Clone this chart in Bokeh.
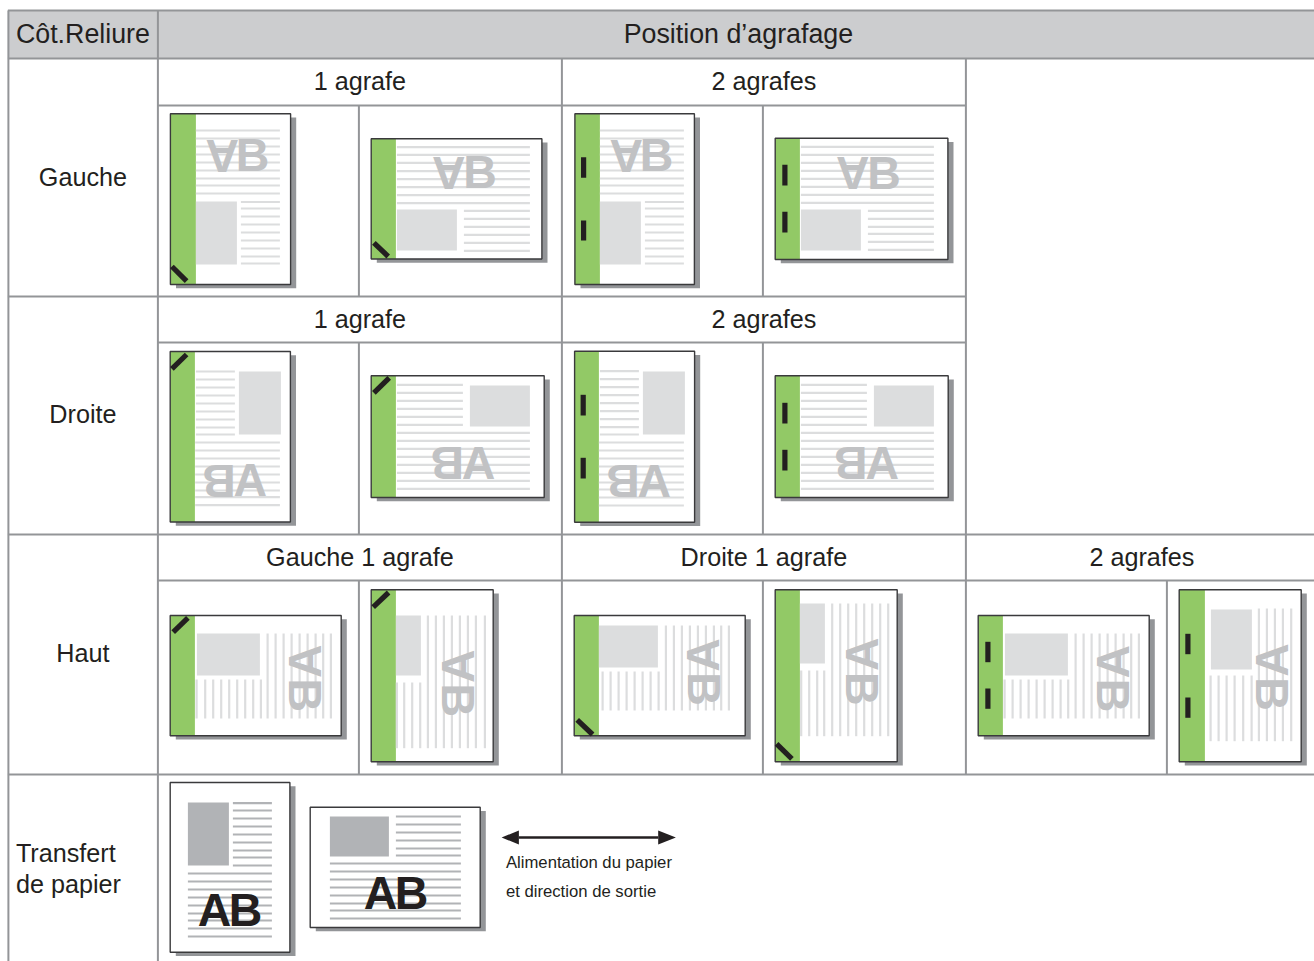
from bokeh.plotting import figure
from bokeh.models import Range1d
from bokeh.core.properties import value
from bokeh.embed import file_html
from bokeh.resources import INLINE
import math

# ---- texts -------------------------------------------------------------
HEADER_TEXTS = [("Côt.Reliure", 16, 43, "left"), ("Position d’agrafage", 738.5, 43, "center")]
CELL_TEXTS = [
    ("1 agrafe", 360, 90, "center"), ("2 agrafes", 764, 90, "center"),
    ("Gauche", 83, 186, "center"),
    ("1 agrafe", 360, 328, "center"), ("2 agrafes", 764, 328, "center"),
    ("Droite", 83, 423, "center"),
    ("Gauche 1 agrafe", 360, 566, "center"), ("Droite 1 agrafe", 764, 566, "center"),
    ("2 agrafes", 1142, 566, "center"),
    ("Haut", 83, 662, "center"),
    ("Transfert", 16, 862, "left"), ("de papier", 16, 893, "left"),
]
NOTE_TEXTS = [("Alimentation du papier", 506, 868.5), ("et direction de sortie", 506, 897)]

# ---- table rules ---------------------------------------------------------
H_RULES = [(8, 1315, 10), (8, 1315, 58), (158, 966, 105), (8, 966, 296), (158, 966, 342),
           (8, 1315, 534), (158, 1315, 580), (8, 1315, 774)]
V_RULES = [(8.5, 10, 961), (158, 10, 961), (562, 58, 774), (966, 58, 774),
           (359, 105, 296), (763, 105, 296), (359, 342, 534), (763, 342, 534),
           (359, 580, 774), (763, 580, 774), (1167, 580, 774)]

# ---- sheets ----------------------------------------------------------------
SHEETS = [
    # Gauche
    dict(box=(170.5, 113.3, 290.7, 284), green=196, rect=(196, 201, 237, 264),
         h=[(196, 280, [130, 138, 146, 154, 162, 170, 178, 185, 193]),
            (241, 280, [201.5, 208, 216, 224, 232, 240, 248, 256, 263])],
         ab=("fv", 207, 138.3, 268, 171.7), stap=[(172, 266, 186.7, 280.7)]),
    dict(box=(371.3, 138.3, 542, 258.5), green=396, rect=(397, 209, 457, 250),
         h=[(397, 530, [146.7, 154.3, 162.3, 170.7, 178.7, 186.7, 194.7, 202.7]),
            (464, 530, [210.3, 218.3, 226.3, 234.3, 242.3, 250.3])],
         ab=("fv", 433, 156, 496, 188.7), stap=[(374, 242.3, 388.3, 256)]),
    dict(box=(575, 113.3, 694.5, 284), green=600, rect=(600, 201, 641, 264),
         h=[(600, 684, [130, 138, 146, 154, 162, 170, 178, 185, 193]),
            (645, 684, [201.5, 208, 216, 224, 232, 240, 248, 256, 263])],
         ab=("fv", 611, 138.3, 672, 171.7),
         stap=[(583.7, 156.7, 583.7, 177.3), (583.7, 220, 583.7, 240)]),
    dict(box=(775.3, 137.7, 948, 259), green=800, rect=(801, 209, 861, 250),
         h=[(801, 934, [146.3, 154.3, 162.3, 170.3, 178.3, 186.3, 194.3, 202.3]),
            (868, 934, [210.3, 218.3, 226.3, 233.3, 241.3, 249.3])],
         ab=("fv", 837, 155.7, 900, 189),
         stap=[(785, 164.3, 785, 185), (785, 211.3, 785, 232)]),
    # Droite
    dict(box=(170.3, 351, 290.5, 521.5), green=195, rect=(239, 371, 281, 434),
         h=[(196, 235, [371, 379, 387, 395, 403, 411, 419, 427, 434]),
            (195.3, 280, [442, 450, 458, 466, 474, 482, 490, 496.7, 504.7])],
         ab=("fh", 203.3, 464, 266, 496.7), stap=[(172, 368.3, 186.7, 354)]),
    dict(box=(371.3, 375.3, 544.3, 497), green=396, rect=(470, 385, 530, 426),
         h=[(397, 463, [384.3, 392.3, 400.3, 408.3, 416.3, 424.3]),
            (397, 530, [432.3, 440.3, 448.3, 456.3, 464.3, 472.3, 480.3, 488.3])],
         ab=("fh", 431.7, 446, 494.3, 479), stap=[(374, 392.3, 389.3, 377.3)]),
    dict(box=(574.7, 350.7, 694.7, 521.7), green=599, rect=(643, 371, 685, 434),
         h=[(600, 639, [370.7, 378.7, 386.7, 394.7, 402.7, 410.7, 418.7, 426.7, 434]),
            (599, 684, [442, 450, 458, 466, 474, 482, 489, 497, 505])],
         ab=("fh", 607.3, 464, 670, 497),
         stap=[(583.3, 394.3, 583.3, 415), (583.3, 457.3, 583.3, 478)]),
    dict(box=(775.3, 375.3, 948.3, 497), green=800, rect=(874, 385, 934, 426),
         h=[(801, 867, [384.3, 392.3, 400.3, 408.3, 416.3, 424.3]),
            (801, 934, [432.3, 440.3, 448.3, 456.3, 464.3, 472.3, 480.3, 488.3])],
         ab=("fh", 835, 445.7, 898.3, 479),
         stap=[(785, 402.3, 785, 423), (785, 449.3, 785, 470)]),
    # Haut
    dict(box=(170.3, 615, 341.3, 735.3), green=195, rect=(197, 633, 260, 675),
         v=[(679, 718, [196.7, 205.3, 213.3, 221.3, 229.3, 237.3, 245.3, 253.3, 261]),
            (633, 718, [267.7, 275.7, 283.7, 291.7, 299.7, 307.7, 315.7, 323.3, 331])],
         ab=("rot", 288.3, 646, 322.3, 708.3), stap=[(173.3, 631.7, 188, 617.3)]),
    dict(box=(371.3, 589.3, 493.3, 761.3), green=396, rect=(396, 615, 421, 675),
         v=[(682, 747.7, [397, 404.3, 412.3, 420.3]),
            (615, 747.7, [428, 436, 444, 452, 460, 468, 476, 485])],
         ab=("rot", 441.7, 651, 475.7, 713.3), stap=[(373.3, 606.7, 388.7, 592)]),
    dict(box=(574.3, 615, 745.3, 735.3), green=599, rect=(599, 625, 658, 667),
         v=[(671, 710, [602.7, 610.7, 618.7, 626.7, 634.7, 642.7, 650.7, 658.7]),
            (625, 710, [666, 674, 682, 690, 698, 706, 714, 721.3, 729])],
         ab=("rot", 687.3, 640, 721, 701.7), stap=[(577.3, 719.3, 592.7, 734)]),
    dict(box=(775.3, 589.3, 897.3, 761.3), green=800, rect=(800, 603, 825, 663),
         v=[(670, 735.7, [801.3, 809.3, 817.3, 824.3]),
            (603, 735.7, [832.3, 840.3, 848.3, 856.3, 864.3, 872.3, 880.3, 888.3])],
         ab=("rot", 845.7, 639, 879.3, 701.7), stap=[(776.7, 743.3, 792, 758.3)]),
    dict(box=(978.3, 615, 1149.3, 735.3), green=1003, rect=(1005, 633, 1068, 675),
         v=[(679, 718, [1004.7, 1012.7, 1020.7, 1028.7, 1036.7, 1044.7, 1052.7, 1060.7, 1068.3]),
            (633, 718, [1075.7, 1083.7, 1091.7, 1099.7, 1107.7, 1115.7, 1123.7, 1131.3, 1139])],
         ab=("rot", 1096.7, 646.7, 1130.3, 708.3),
         stap=[(988, 641.3, 988, 661.7), (988, 688, 988, 708.3)]),
    dict(box=(1179.3, 589.3, 1301.3, 761.3), green=1205, rect=(1211, 609, 1252, 669),
         v=[(675, 740.7, [1210.7, 1218.7, 1226.7, 1234.7, 1243.3, 1251.7]),
            (608, 740.7, [1259, 1267, 1275, 1283, 1291.3])],
         ab=("rot", 1255.7, 645, 1289.3, 706.7),
         stap=[(1188, 633.3, 1188, 653.7), (1188, 697, 1188, 717.3)]),
    # Transfert de papier
    dict(box=(170.3, 782, 290, 951.7), rect=(188, 802, 229, 865), dark=True,
         h=[(233, 272, [802.7, 810, 818, 826, 834, 842, 850, 857, 865]),
            (188, 272, [873, 881, 889, 897, 905, 913, 920, 928, 936])],
         ab=("plain", 199.3, 894, 261, 926)),
    dict(box=(310.3, 806.7, 480.3, 927), rect=(330, 816, 389, 856), dark=True,
         h=[(396, 461, [816, 824, 832, 840, 848, 855]),
            (330, 461, [863, 871, 879, 887, 895, 903, 910, 918])],
         ab=("plain", 365, 877, 427.3, 909)),
]

ARROW_SPAN = (519, 658.3, 837)
ARROW_HEADS = [([501.7, 519, 519], [837, 830, 844]), ([676, 658.3, 658.3], [837, 830, 844])]

# ---- colours ---------------------------------------------------------------
RULE = "#939598"; HEAD_BG = "#cccdcf"; INK = "#231f20"; GREEN = "#92c966"
LIGHT = "#dcddde"; LETTER = "#c1c2c4"; DARKGREY = "#b1b3b6"

FONT = value("Liberation Sans")
BASE_K = 0.365  # distance between the anchor Bokeh uses and the glyph baseline, in em

p = figure(width=1314, height=961, x_range=Range1d(0.6, 1314.6), y_range=Range1d(961, 0),
           output_backend="svg", toolbar_location=None, min_border=0,
           background_fill_color="white", border_fill_color="white", outline_line_color=None)
p.axis.visible = False
p.grid.visible = False

# header band and rules
p.quad(left=[8], right=[1315], top=[10], bottom=[58], fill_color=HEAD_BG, line_color=None)
p.segment([r[0] for r in H_RULES], [r[2] for r in H_RULES], [r[1] for r in H_RULES], [r[2] for r in H_RULES],
          line_color=RULE, line_width=2)
p.segment([r[0] for r in V_RULES], [r[1] for r in V_RULES], [r[0] for r in V_RULES], [r[2] for r in V_RULES],
          line_color=RULE, line_width=2)

LETTER_ANGLES = {  # (left/upper letter, angle), (right/lower letter, angle)
    "fv": (("A", math.pi), ("B", 0)),
    "fh": (("B", math.pi), ("A", 0)),
    "rot": (("A", math.pi / 2), ("B", -math.pi / 2)),
    "plain": (("A", 0), ("B", 0)),
}
LETTER_SIZE = 46.5


def draw_letters(ab, color):
    kind, l, t, r, b = ab
    first, second = LETTER_ANGLES[kind]
    shift = BASE_K * LETTER_SIZE
    fracs = (0.235, 0.785) if kind == "rot" else (0.25, 0.75)
    for frac, (ch, ang) in zip(fracs, (first, second)):
        if kind == "rot":
            x = (r - shift if ang > 0 else l + shift) - 0.5
            y = t + (b - t) * frac
        else:
            x = l + (r - l) * frac
            y = t + shift if ang else b - shift
        p.text([x], [y], text=[ch], angle=[ang], text_font=FONT, text_font_style="bold",
               text_font_size=f"{LETTER_SIZE}px", text_color=color, text_align="center",
               text_baseline="alphabetic")


for s in SHEETS:
    x0, y0, x1, y1 = s["box"]
    dark = s.get("dark", False)
    line_col = DARKGREY if dark else LIGHT
    p.quad(left=[x0 + 5.6], right=[x1 + 5.6], top=[y0 + 3.8], bottom=[y1 + 3.8], fill_color=RULE, line_color=None)
    p.quad(left=[x0], right=[x1], top=[y0], bottom=[y1], fill_color="white", line_color=None)
    if "green" in s:
        p.quad(left=[x0], right=[s["green"]], top=[y0], bottom=[y1], fill_color=GREEN, line_color=None)
    rx0, ry0, rx1, ry1 = s["rect"]
    p.quad(left=[rx0], right=[rx1], top=[ry0], bottom=[ry1], fill_color=line_col, line_color=None)
    for a, b, ys in s.get("h", []):
        p.segment([a] * len(ys), ys, [b] * len(ys), ys, line_color=line_col, line_width=2.2)
    for a, b, xs in s.get("v", []):
        p.segment(xs, [a] * len(xs), xs, [b] * len(xs), line_color=line_col, line_width=2.2)
    draw_letters(s["ab"], INK if dark else LETTER)
    p.quad(left=[x0], right=[x1], top=[y0], bottom=[y1], fill_color=None, line_color="#3a3a3c", line_width=1.4)
    for st in s.get("stap", []):
        p.segment([st[0]], [st[1]], [st[2]], [st[3]], line_color=INK, line_width=5.2, line_cap="butt")

# arrow
p.segment([ARROW_SPAN[0]], [ARROW_SPAN[2]], [ARROW_SPAN[1]], [ARROW_SPAN[2]], line_color=INK, line_width=2.6)
p.patches([h[0] for h in ARROW_HEADS], [h[1] for h in ARROW_HEADS], fill_color=INK, line_color=None)

# texts
for t, x, y, al in HEADER_TEXTS:
    p.text([x], [y - BASE_K * 26.8], text=[t], text_font=FONT, text_font_size="26.8px", text_color=INK,
           text_align=al, text_baseline="alphabetic")
for t, x, y, al in CELL_TEXTS:
    p.text([x], [y - BASE_K * 25.2], text=[t], text_font=FONT, text_font_size="25.2px", text_color=INK,
           text_align=al, text_baseline="alphabetic")
for t, x, y in NOTE_TEXTS:
    p.text([x], [y - BASE_K * 16.7], text=[t], text_font=FONT, text_font_size="16.7px", text_color=INK,
           text_align="left", text_baseline="alphabetic")

open("out.html", "w").write(file_html(p, INLINE))
